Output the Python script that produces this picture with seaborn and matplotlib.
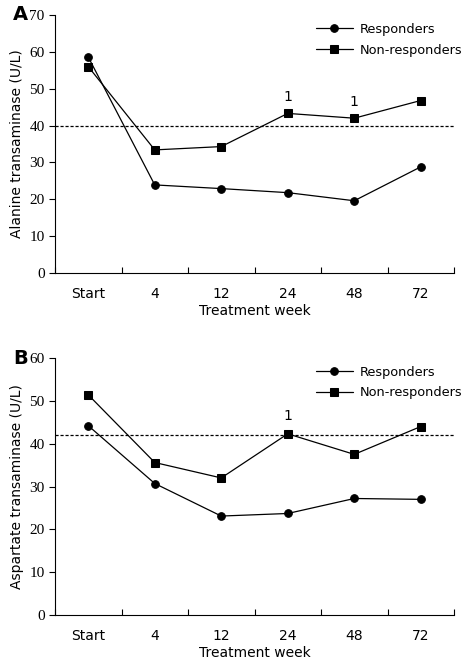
import pandas as pd
import matplotlib.pyplot as plt
import seaborn as sns

# data
weeks = ['Start', '4', '12', '24', '48', '72']
alt_resp = [58.6, 23.9, 22.9, 21.8, 19.6, 28.8]
alt_nonresp = [56.0, 33.4, 34.3, 43.3, 42.0, 46.8]
ast_resp = [44.2, 30.7, 23.1, 23.7, 27.2, 27.0]
ast_nonresp = [51.4, 35.6, 32.0, 42.3, 37.5, 44.0]
alt_limit = 40
ast_limit = 42
alt_marks = ['24', '48']
ast_marks = ['24']

sns.set_style("ticks")
plt.rcParams['font.family'] = ['DejaVu Sans']
plt.rcParams.update({'text.color': 'black', 'axes.labelcolor': 'black',
                     'xtick.color': 'black', 'ytick.color': 'black',
                     'axes.edgecolor': 'black'})


def long_table(resp, nonresp):
    rows = []
    for i, w in enumerate(weeks):
        rows.append([i, w, resp[i], 'Responders'])
        rows.append([i, w, nonresp[i], 'Non-responders'])
    return pd.DataFrame(rows, columns=['pos', 'week', 'value', 'group'])


def draw_panel(ax, resp, nonresp, limit, marks, ymax, ylabel, letter):
    df = long_table(resp, nonresp)
    sns.lineplot(data=df, x='pos', y='value', style='group',
                 style_order=['Responders', 'Non-responders'],
                 markers={'Responders': 'o', 'Non-responders': 's'},
                 dashes=False, color='black', linewidth=0.9,
                 markersize=5.5, markeredgecolor='black', ax=ax)
    ax.axhline(limit, color='black', linestyle=(0, (2.5, 1.5)), linewidth=0.9)
    for w in marks:
        i = weeks.index(w)
        ax.text(i, nonresp[i] + 2.5, '1', ha='center', va='bottom', fontsize=10)
    ax.set_xlim(-0.5, 5.5)
    ax.set_ylim(0, ymax)
    ax.set_yticks(range(0, ymax + 1, 10))
    ax.set_yticklabels([str(v) for v in range(0, ymax + 1, 10)],
                       family='Liberation Serif', fontsize=11)
    # major ticks between categories, labels at category centres
    ax.set_xticks([x + 0.5 for x in range(-1, 6)])
    ax.set_xticklabels([])
    ax.tick_params(axis='x', which='major', direction='in', length=4)
    ax.set_xticks(range(len(weeks)), minor=True)
    ax.set_xticklabels(weeks, minor=True, fontsize=10)
    ax.tick_params(axis='x', which='minor', length=0, pad=10)
    ax.tick_params(axis='y', direction='out', length=4)
    ax.set_xlabel('Treatment week', fontsize=10, labelpad=2)
    ax.set_ylabel(ylabel, fontsize=10)
    sns.despine(ax=ax)
    leg = ax.legend(loc='upper right', frameon=False, fontsize=9.3,
                    handlelength=2.9, handletextpad=0.5, borderaxespad=0.2,
                    labelspacing=0.6, bbox_to_anchor=(1.04, 1.0))
    for h in leg.legend_handles:
        h.set_color('black')
        h.set_markersize(5.5)
    ax.text(-0.105, 1.0, letter, transform=ax.transAxes, fontsize=14,
            fontweight='bold', va='center', ha='left')


fig = plt.figure(figsize=(4.72, 6.70), dpi=100)
ax1 = fig.add_axes([55 / 472, 1 - 273 / 670, 399 / 472, 258 / 670])
ax2 = fig.add_axes([55 / 472, 1 - 615 / 670, 399 / 472, 257 / 670])

draw_panel(ax1, alt_resp, alt_nonresp, alt_limit, alt_marks, 70,
           'Alanine transaminase (U/L)', 'A')
draw_panel(ax2, ast_resp, ast_nonresp, ast_limit, ast_marks, 60,
           'Aspartate transaminase (U/L)', 'B')

fig.savefig('out.png', dpi=100)
